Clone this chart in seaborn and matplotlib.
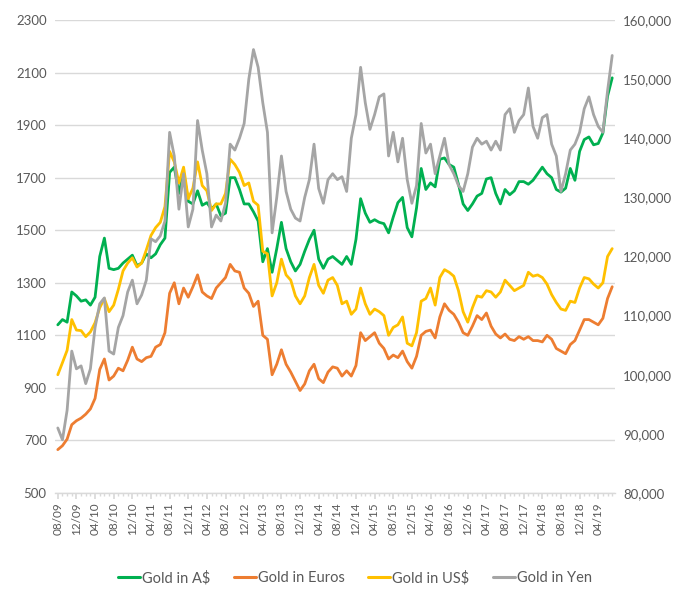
import matplotlib
matplotlib.use("Agg")
import matplotlib.pyplot as plt
from matplotlib.lines import Line2D
from matplotlib.ticker import FuncFormatter
import numpy as np
import pandas as pd
import seaborn as sns

# ---------------- data (monthly, Aug 2009 .. Jul 2019) ----------------
months = pd.date_range("2009-08-01", periods=120, freq="MS")

tick_labels = ["08/09", "12/09", "04/10", "08/10", "12/10", "04/11", "08/11", "12/11",
               "04/12", "08/12", "12/12", "04/13", "08/13", "12/13", "04/14", "08/14",
               "12/14", "04/15", "08/15", "12/15", "04/16", "08/16", "12/16", "04/17",
               "08/17", "12/17", "04/18", "08/18", "12/18", "04/19"]

gold_aud = [1140, 1160, 1150, 1265, 1250,
            1230, 1235, 1215, 1245, 1400, 1470, 1355, 1350, 1355, 1375, 1390, 1405,
            1365, 1375, 1410, 1395, 1410, 1445, 1470, 1720, 1740, 1640, 1720, 1610,
            1600, 1650, 1595, 1605, 1580, 1600, 1555, 1565, 1700, 1700, 1655, 1600,
            1600, 1570, 1535, 1380, 1430, 1340, 1430, 1530, 1430, 1380, 1345, 1370,
            1420, 1465, 1500, 1390, 1355, 1390, 1400, 1385, 1370, 1400, 1370, 1465,
            1620, 1565, 1530, 1540, 1530, 1525, 1490, 1550, 1605, 1625, 1510, 1475,
            1585, 1735, 1655, 1680, 1665, 1770, 1775, 1750, 1740, 1675, 1600, 1575,
            1600, 1630, 1640, 1695, 1700, 1640, 1600, 1655, 1635, 1650, 1685, 1685,
            1675, 1690, 1715, 1740, 1715, 1700, 1655, 1645, 1660, 1735, 1690, 1800,
            1845, 1855, 1825, 1830, 1870, 2010, 2080]

gold_eur = [665, 680, 705, 760, 775,
            785, 800, 820, 860, 970, 1010, 930, 945, 975, 965, 1005, 1055,
            1010, 1000, 1015, 1020, 1055, 1065, 1110, 1260, 1300, 1220, 1280, 1245,
            1285, 1330, 1265, 1250, 1240, 1280, 1300, 1320, 1370, 1345, 1340, 1280,
            1260, 1210, 1230, 1100, 1085, 950, 990, 1045, 990, 960, 925, 890,
            915, 965, 990, 935, 920, 960, 980, 975, 945, 965, 945, 985,
            1110, 1080, 1095, 1110, 1070, 1050, 1010, 1025, 1015, 1040, 1000, 975,
            1020, 1100, 1115, 1120, 1090, 1170, 1220, 1195, 1180, 1150, 1110, 1100,
            1135, 1175, 1160, 1185, 1135, 1105, 1090, 1105, 1085, 1080, 1095, 1085,
            1095, 1080, 1080, 1075, 1100, 1085, 1050, 1040, 1030, 1065, 1080, 1120,
            1160, 1160, 1150, 1140, 1165, 1240, 1285]

gold_usd = [950, 996, 1043, 1160, 1120,
            1118, 1095, 1113, 1148, 1205, 1240, 1190, 1215, 1275, 1345, 1375, 1395,
            1360, 1375, 1425, 1480, 1510, 1530, 1590, 1800, 1760, 1680, 1740, 1620,
            1660, 1760, 1670, 1650, 1575, 1600, 1600, 1640, 1770, 1750, 1720, 1670,
            1680, 1610, 1595, 1420, 1410, 1250, 1300, 1390, 1330, 1310, 1250, 1220,
            1250, 1320, 1370, 1290, 1260, 1310, 1320, 1290, 1220, 1230, 1180, 1200,
            1280, 1220, 1180, 1200, 1190, 1175, 1100, 1130, 1140, 1170, 1070, 1060,
            1110, 1230, 1240, 1280, 1215, 1320, 1350, 1340, 1325, 1270, 1190, 1150,
            1205, 1250, 1245, 1270, 1265, 1245, 1265, 1310, 1290, 1270, 1280, 1290,
            1340, 1325, 1330, 1320, 1295, 1255, 1225, 1200, 1195, 1230, 1225, 1280,
            1320, 1315, 1295, 1280, 1300, 1400, 1430]

gold_jpy = [91000, 89000, 94000, 104000, 101000,
            101500, 98500, 101000, 108000, 112000, 113000, 104000, 103500, 108000, 110000, 114000, 116000,
            112000, 113500, 116000, 123000, 122500, 123500, 126000, 141000, 137000, 128000, 134000, 125000,
            128000, 143000, 138000, 134000, 125000, 127000, 126000, 129000, 139000, 138000, 140000, 142500,
            150000, 155000, 152000, 146000, 141000, 124000, 130000, 137000, 131000, 128000, 126500, 126000,
            130000, 133000, 139000, 131500, 129000, 133000, 134000, 133000, 133500, 131000, 140000, 144000,
            152000, 146000, 141500, 144000, 147000, 147500, 137000, 141000, 136000, 140000, 133000, 129000,
            132000, 142500, 137500, 139000, 134000, 137000, 140000, 135500, 134000, 132000, 131000, 134000,
            138500, 140000, 139000, 139500, 138000, 139500, 138000, 144000, 145000, 141000, 143000, 144000,
            148500, 142000, 140000, 143500, 144000, 139000, 137000, 131000, 134000, 138000, 139000, 141000,
            145000, 147000, 144000, 142000, 141000, 148000, 154000]

series_names = ["Gold in A$", "Gold in Euros", "Gold in US$", "Gold in Yen"]
colors = ["#00B050", "#ED7D31", "#FFC000", "#A5A5A5"]

# ---------------- figure ----------------
sns.set_theme(style="white")
plt.rcParams["font.family"] = ["Lato", "DejaVu Sans"]
TXT = "#595959"
GRID = "#D9D9D9"

fig = plt.figure(figsize=(6.86, 6.02), dpi=100)
ax = fig.add_axes([55 / 686, 1 - 493 / 602, 560 / 686, 473 / 602])

idx = np.arange(len(months))
left_df = pd.DataFrame({"idx": idx, series_names[0]: gold_aud,
                        series_names[1]: gold_eur, series_names[2]: gold_usd})
long = left_df.melt(id_vars="idx", var_name="series", value_name="price")

sns.lineplot(data=long, x="idx", y="price", hue="series",
             hue_order=series_names[:3], palette=colors[:3],
             estimator=None, sort=False, lw=2.0, legend=False, ax=ax)

ax2 = ax.twinx()
sns.lineplot(x=idx, y=gold_jpy, color=colors[3], estimator=None, sort=False,
             lw=2.0, legend=False, ax=ax2)

# axes limits / ticks
ax.set_xlim(-0.6, len(idx) - 1 + 0.6)
ax.set_ylim(500, 2300)
ax.set_yticks(np.arange(500, 2301, 200))
ax2.set_ylim(80000, 160000)
ax2.set_yticks(np.arange(80000, 160001, 10000))
ax2.yaxis.set_major_formatter(FuncFormatter(lambda v, p: f"{int(v):,}"))

ax.set_xticks(idx[::4])
ax.set_xticklabels(tick_labels, rotation=90)
ax.set_xticks(idx, minor=True)

ax.set_xlabel("")
ax.set_ylabel("")
ax2.set_xlabel("")
ax2.set_ylabel("")

ax.yaxis.grid(True, color=GRID, lw=1.0)
ax.xaxis.grid(False)
ax2.grid(False)
ax.set_axisbelow(True)

for a in (ax, ax2):
    for s in ("top", "left", "right"):
        a.spines[s].set_visible(False)
    a.spines["bottom"].set_visible(False)
ax.spines["bottom"].set_visible(True)
ax.spines["bottom"].set_color(GRID)
ax.spines["bottom"].set_linewidth(1.0)

ax.tick_params(axis="y", length=0, labelsize=9.5, labelcolor=TXT, pad=6)
ax2.tick_params(axis="y", length=0, labelsize=9.5, labelcolor=TXT, pad=6)
ax.tick_params(axis="x", which="major", length=4, color=GRID, labelsize=8.5,
               labelcolor=TXT, pad=3, bottom=True)
ax.tick_params(axis="x", which="minor", length=2.5, color=GRID, bottom=True)

# legend
handles = [Line2D([0], [0], color=c, lw=2.2) for c in colors]
fig.legend(handles, series_names, loc="center", ncol=4,
           bbox_to_anchor=(355 / 686, 1 - 578 / 602), frameon=False,
           fontsize=10.5, labelcolor=TXT, handlelength=1.5, handletextpad=0.15,
           columnspacing=1.6)

fig.savefig("out.png", dpi=100)
